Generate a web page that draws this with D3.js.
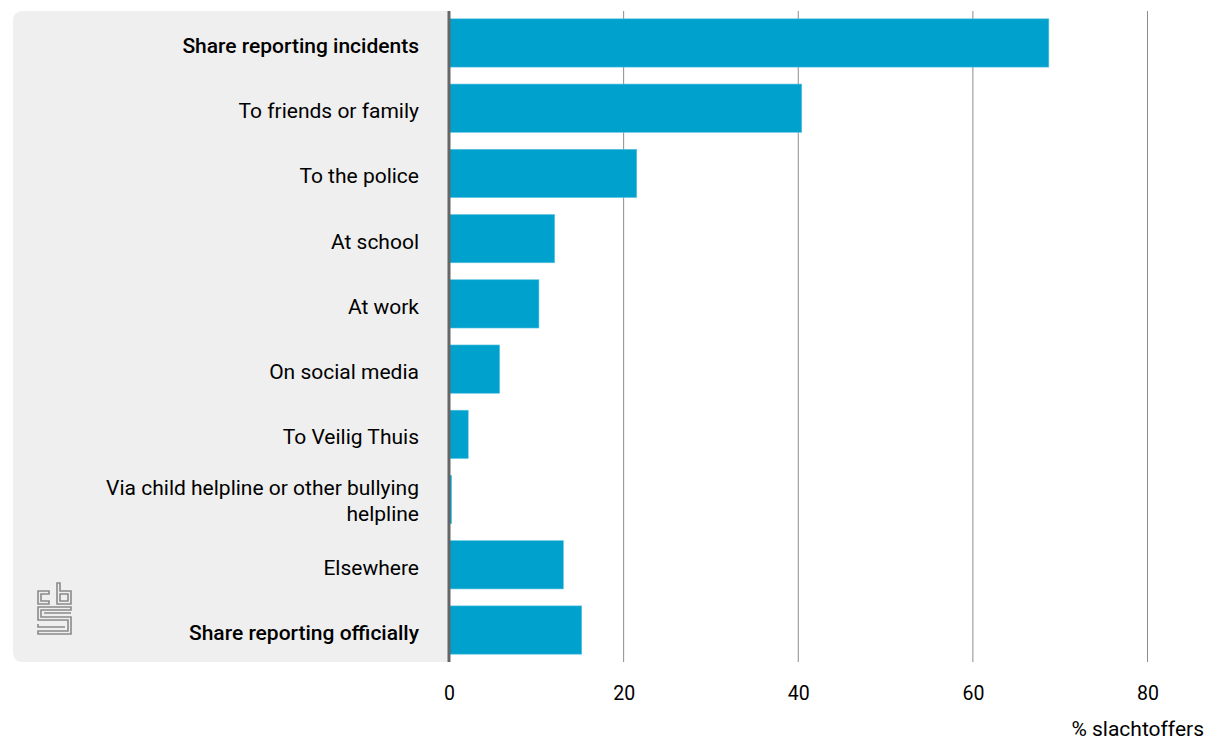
<!DOCTYPE html>
<html><head><meta charset="utf-8">
<script src="https://cdn.jsdelivr.net/npm/d3@7"></script>
<style>body{margin:0;background:#fff;} svg{display:block;font-family:Roboto, "Noto Sans", sans-serif;}</style>
</head><body>
<svg id="chart" width="1207" height="740"></svg>
<script>
const categories = ["Share reporting incidents","To friends or family","To the police","At school","At work","On social media","To Veilig Thuis","Via child helpline or other bullying helpline","Elsewhere","Share reporting officially"];
const values = [68.7, 40.4, 21.5, 12.1, 10.3, 5.8, 2.2, 0.3, 13.1, 15.2];
const boldCats = ["Share reporting incidents","Share reporting officially"];
const xTicks = [0, 20, 40, 60, 80];
const axisTitle = "% slachtoffers";

(function(){
const svg = d3.select("#chart");
const left = 449, plotTop = 11, plotBottom = 662;
const x = d3.scaleLinear().domain([0, 80]).range([left, 1147.5]);
const y = d3.scaleBand().domain(categories).range([plotTop, plotBottom]).paddingInner(0.26).paddingOuter(0.12);

// grey panel
svg.append("path").attr("fill", "#efefef")
  .attr("d", `M${left},${plotTop} H23 Q13,${plotTop} 13,${plotTop+10} V${plotBottom-10} Q13,${plotBottom} 23,${plotBottom} H${left} Z`);

// grid lines
svg.append("g").selectAll("line").data(xTicks.filter(d => d > 0)).join("line")
  .attr("x1", d => x(d)).attr("x2", d => x(d)).attr("y1", plotTop).attr("y2", plotBottom)
  .attr("stroke", "#8c8c8c").attr("stroke-width", 1);

// bars
svg.append("g").selectAll("rect").data(categories).join("rect")
  .attr("x", x(0)).attr("y", d => y(d))
  .attr("width", (d, i) => x(values[i]) - x(0)).attr("height", y.bandwidth())
  .attr("fill", "#00a1cd").attr("stroke", "#5cc3e0").attr("stroke-width", 0.6);

// baseline
svg.append("line").attr("x1", left).attr("x2", left).attr("y1", plotTop).attr("y2", plotBottom)
  .attr("stroke", "#666").attr("stroke-width", 3);

// category labels
const lab = svg.append("g");
categories.forEach(c => {
  const t = lab.append("text").attr("text-anchor", "end").attr("fill", "#000")
    .attr("font-size", 21).attr("font-weight", boldCats.includes(c) ? 500 : 400);
  const cy = y(c) + y.bandwidth() / 2;
  if (c.length > 30) {
    t.append("tspan").attr("x", 419).attr("y", cy - 5).text("Via child helpline or other bullying");
    t.append("tspan").attr("x", 419).attr("y", cy + 21).text("helpline");
  } else {
    t.attr("x", 419).attr("y", cy + 10).text(c);
  }
});

// x axis labels
const xAxis = d3.axisBottom(x).tickValues(xTicks).tickSize(0).tickPadding(0);
const ga = svg.append("g").attr("transform", `translate(0,700)`).call(xAxis);
ga.select(".domain").remove();
ga.selectAll("text").attr("font-size", 19.5).attr("fill", "#000").attr("font-family", "Roboto, sans-serif").attr("dy", 0).attr("y", 0);

svg.append("text").attr("x", 1204).attr("y", 736).attr("text-anchor", "end")
  .attr("font-size", 21).attr("fill", "#000").text(axisTitle);

// cbs logo
const logo = svg.append("g").attr("fill", "none").attr("stroke", "#8a8a8a").attr("stroke-width", 1.6);
const lx = 37, ly = 583;
logo.append("path").attr("d", `M${lx+1},${ly+8} H${lx+12} V${ly+11} H${lx+4} V${ly+18} H${lx+12} V${ly+21} H${lx+1} Z`);
logo.append("path").attr("d", `M${lx+23},${ly} V${ly+8} H${lx+34} V${ly+21} H${lx+20} V${ly} Z M${lx+23},${ly+11} V${ly+18} H${lx+31} V${ly+11} Z`);
logo.append("path").attr("d", `M${lx+1},${ly+24} H${lx+34} V${ly+27} H${lx+4} V${ly+34} H${lx+34} V${ly+51} H${lx+1} V${ly+48} H${lx+31} V${ly+37} H${lx+1} Z M${lx+7},${ly+30} H${lx+34} M${lx+1},${ly+41} V${ly+44} H${lx+28}`);
})();
</script>
</body></html>
